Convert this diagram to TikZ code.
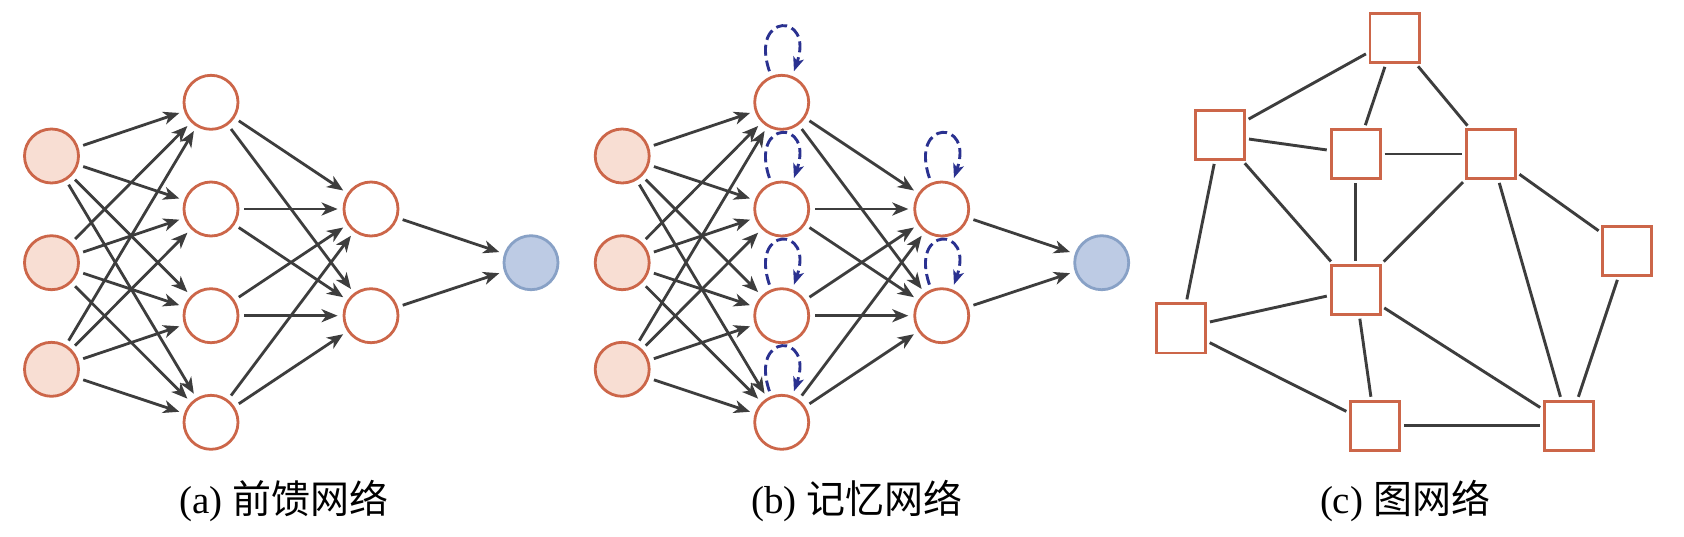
\documentclass[tikz,border=0pt]{standalone}
\usepackage{fontspec}
\setmainfont{Liberation Serif}
\newfontfamily\cjk{Noto Sans CJK SC}
\usetikzlibrary{arrows.meta}
\definecolor{orc}{HTML}{CC6649}
\definecolor{peach}{HTML}{F8DED3}
\definecolor{bfill}{HTML}{BDCBE4}
\definecolor{bdraw}{HTML}{88A1C6}
\definecolor{edgec}{HTML}{3D3D3D}
\definecolor{loopc}{HTML}{2A3190}
\tikzset{
  neuron/.style={circle,draw=orc,line width=1.4pt,minimum size=27pt,inner sep=0pt,fill=white},
  inneuron/.style={neuron,fill=peach},
  outneuron/.style={neuron,draw=bdraw,fill=bfill},
  sqnode/.style={rectangle,draw=orc,line width=1.4pt,minimum size=24.6pt,inner sep=0pt,fill=white},
  arr/.style={draw=edgec,line width=1.4pt,-{Stealth[length=8pt,width=6.5pt,inset=2.3pt]},shorten <=2.5pt,shorten >=2.5pt},
  gline/.style={draw=edgec,line width=1.45pt,shorten <=1.5pt,shorten >=1.5pt},
  selfloop/.style={draw=loopc,line width=1.45pt,dash pattern=on 5.5pt off 2.5pt,-{Stealth[length=7pt,width=5.5pt,inset=1.8pt]},shorten <=2.5pt,shorten >=2.5pt},
  captxt/.style={inner sep=0pt,font=\fontsize{19.5pt}{24pt}\selectfont,anchor=base}
}
\begin{document}
\begin{tikzpicture}[x=0.5pt,y=-0.5pt]
\useasboundingbox (0,0) rectangle (1684,536);
\fill[white] (0,0) rectangle (1684,536);
% panels (a) and (b)
\foreach \p/\dx in {a/0,b/570.7}{
  \foreach \k/\yy in {1/156,2/262.7,3/369.3}
    \node[inneuron] (\p-i\k) at ({51.5+\dx},\yy) {};
  \foreach \k/\yy in {1/102.3,2/209,3/315.7,4/422.3}
    \node[neuron] (\p-h\k) at ({211+\dx},\yy) {};
  \foreach \k/\yy in {1/209,2/315.7}
    \node[neuron] (\p-l\k) at ({371+\dx},\yy) {};
  \node[outneuron] (\p-o) at ({531+\dx},262.7) {};
  \foreach \i in {1,2,3}
    \foreach \j in {1,...,4}
      \draw[arr] (\p-i\i) -- (\p-h\j);
  \foreach \j in {1,...,4}
    \foreach \k in {1,2}
      \draw[arr] (\p-h\j) -- (\p-l\k);
  \foreach \k in {1,2}
    \draw[arr] (\p-l\k) -- (\p-o);
}
% self loops in (b)
\foreach \n in {b-h1,b-h2,b-h3,b-h4,b-l1,b-l2}
  \draw[selfloop] (\n.112) .. controls +(-11pt,32pt) and +(11pt,32pt) .. (\n.68);
% panel (c)
\node[sqnode] (c1) at (1394.5,38) {};
\node[sqnode] (c2) at (1220,135) {};
\node[sqnode] (c3) at (1355.7,154) {};
\node[sqnode] (c4) at (1491,154) {};
\node[sqnode] (c5) at (1627,251) {};
\node[sqnode] (c6) at (1355.7,289.7) {};
\node[sqnode] (c7) at (1181,328.3) {};
\node[sqnode] (c8) at (1375,425.7) {};
\node[sqnode] (c9) at (1568.7,425.7) {};
\foreach \u/\v in {c1/c2,c1/c3,c1/c4,c2/c3,c2/c6,c2/c7,c3/c4,c3/c6,c4/c6,c4/c5,c4/c9,c5/c9,c6/c7,c6/c8,c6/c9,c7/c8,c8/c9}
  \draw[gline] (\u) -- (\v);
% captions
\node[captxt] (capa) at (284,513) {(a) {\cjk 前馈网络}};
\node[captxt] (capb) at (857,513) {(b) {\cjk 记忆网络}};
\node[captxt] (capc) at (1405,513) {(c) {\cjk 图网络}};
\end{tikzpicture}
\end{document}
